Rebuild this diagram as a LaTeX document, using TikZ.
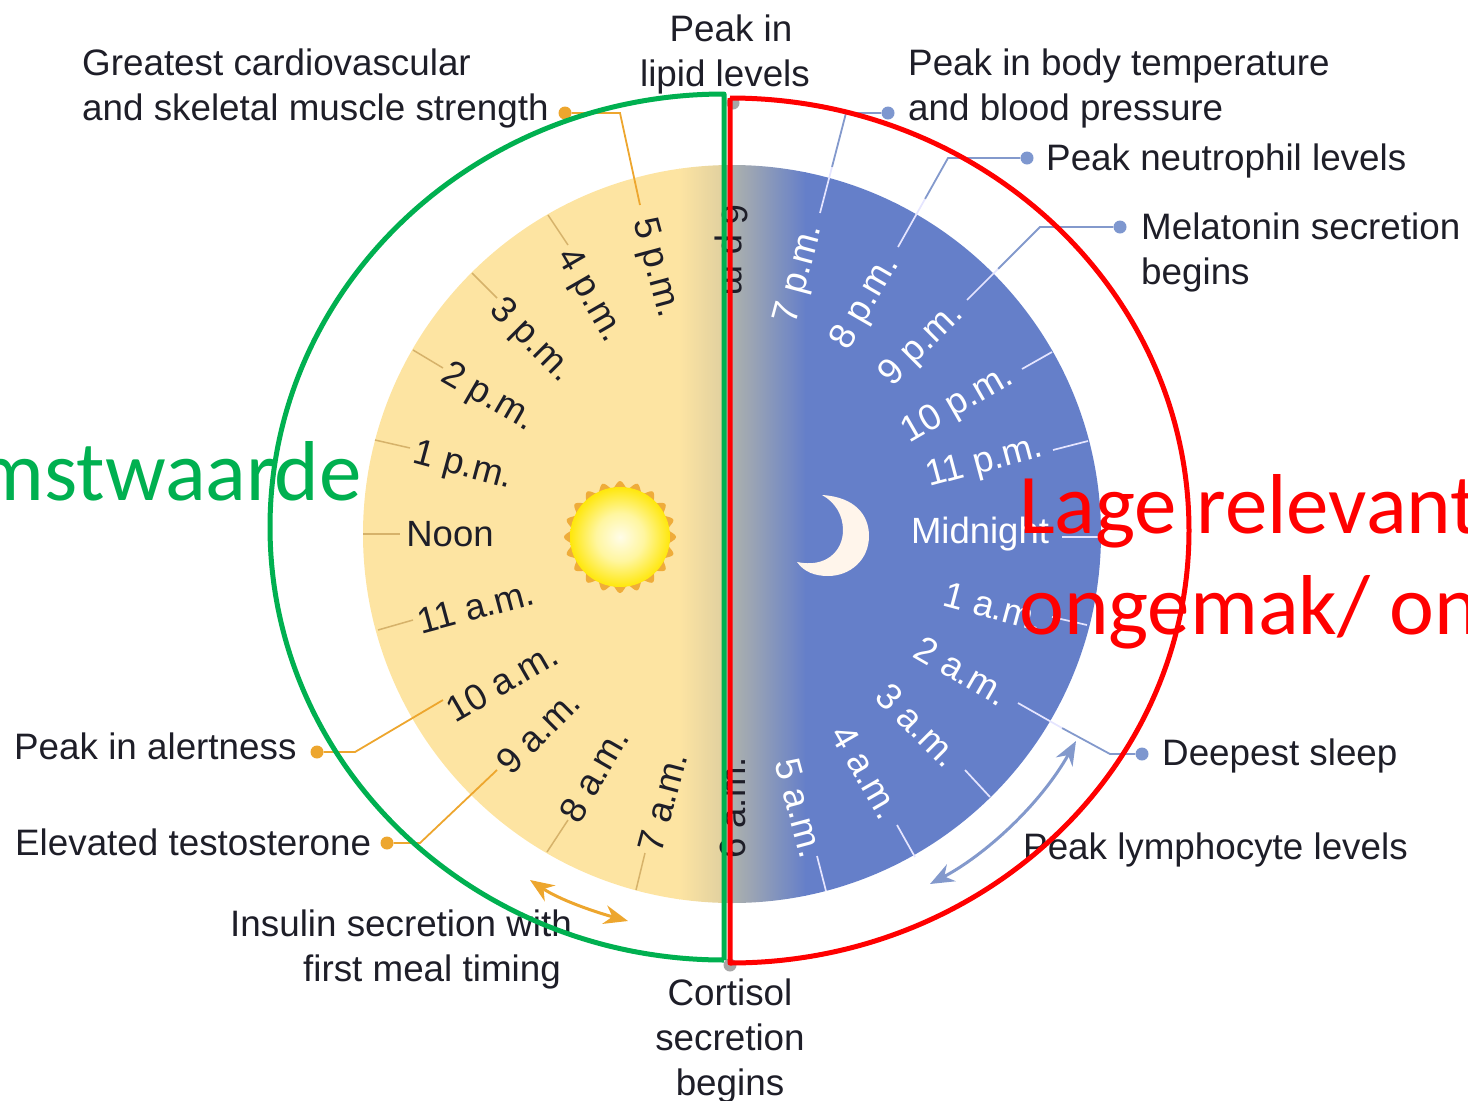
\documentclass[tikz,border=0pt]{standalone}
\usepackage{fontspec}
\setmainfont{Liberation Sans}
\newfontfamily\bigfont{Carlito}
\usetikzlibrary{arrows.meta}
\definecolor{dayfill}{HTML}{FDE4A2}
\definecolor{dayedge}{HTML}{DFCF9F}
\definecolor{nightfill}{HTML}{657FC9}
\definecolor{nightedge}{HTML}{B4B6AA}
\definecolor{ticktan}{HTML}{D6B26A}
\definecolor{orangeline}{HTML}{EDA62E}
\definecolor{blueline}{HTML}{8399CC}
\definecolor{bluedot}{HTML}{7E97CF}
\definecolor{txt}{HTML}{1E1E28}
\definecolor{bggreen}{HTML}{00B050}
\definecolor{sunA}{HTML}{FFFCE8}
\definecolor{sunB}{HTML}{FFF6A0}
\definecolor{sunC}{HTML}{FFE600}
\definecolor{sunD}{HTML}{FFD500}
\definecolor{sunE}{HTML}{F5AE00}
\definecolor{sunF}{HTML}{F0A818}
\pgfdeclareradialshading{sunball}{\pgfpointorigin}{
  color(0bp)=(sunA);color(12bp)=(sunB);color(26bp)=(sunC);
  color(38bp)=(sunD);color(47bp)=(sunE);color(50bp)=(sunF)}
\tikzset{
  lbl/.style={font=\fontsize{36.8}{45}\selectfont,text=txt,inner sep=0pt,align=left},
  hourd/.style={font=\fontsize{36.5}{40}\selectfont,text=txt,inner sep=0pt},
  hourn/.style={font=\fontsize{36.5}{40}\selectfont,text=white,inner sep=0pt},
  daytick/.style={ticktan,line width=1.5pt},
  nighttick/.style={white!90!blue,line width=1.7pt},
  orangelead/.style={orangeline,line width=1.8pt},
  bluelead/.style={blueline,line width=1.8pt},
  dotor/.style={circle,fill=orangeline,inner sep=0pt,minimum size=13pt},
  dotbl/.style={circle,fill=bluedot,inner sep=0pt,minimum size=13pt},
  dotgr/.style={circle,fill=gray!70,inner sep=0pt,minimum size=13pt},
  bigt/.style={font=\bigfont\fontsize{85}{90}\selectfont,inner sep=0pt},
  halfring/.style={line width=5pt,line join=round},
  cyc/.style={line width=3pt,{Stealth[length=24pt,width=19pt]}-{Stealth[length=24pt,width=19pt]}}
}
\begin{document}
\begin{tikzpicture}[x=1pt,y=-1pt]
\useasboundingbox (0,0) rectangle (1468,1101);
\clip (0,0) rectangle (1468,1101);
% disc
\begin{scope}
  \clip (732,534) circle[radius=369pt];
  \fill[dayfill] (360,160) rectangle (680,910);
  \shade[left color=dayfill,right color=dayedge] (679,160) rectangle (726,910);
  \shade[left color=nightedge,right color=nightfill] (725,160) rectangle (806,910);
  \fill[nightfill] (805,160) rectangle (1105,910);
\end{scope}
% sun
\begin{scope}[shift={(620,537)}]
  \fill[orangeline!90!dayfill] plot[domain=0:360,samples=241,smooth] (\x:{52.5+3.5*cos(20*\x)});
  \shade[shading=sunball] (0,0) circle[radius=50pt];
\end{scope}
% moon
\fill[white!92!orange] (822,495) .. controls (855,497) and (869,515) .. (869,536)
  .. controls (869,560) and (850,576) .. (828,576)
  .. controls (815,576) and (804,572) .. (797,562)
  .. controls (825,568) and (843,552) .. (843,530)
  .. controls (843,515) and (835,502) .. (822,495) -- cycle;
% dots
\node[dotor] (dStrength) at (565,113) {};
\node[dotor] (dAlert) at (317,752) {};
\node[dotor] (dTesto) at (387,843) {};
\node[dotbl] (dTemp) at (888,113) {};
\node[dotbl] (dNeutro) at (1027,158) {};
\node[dotbl] (dMela) at (1120,227) {};
\node[dotbl] (dSleep) at (1142,754) {};
\node[dotgr] (dLipid) at (733,103) {};
\node[dotgr] (dCort) at (730,965) {};
% leader lines
\coordinate (k17a) at (620,113); \coordinate (k17b) at (640,205);
\draw[orangelead] (dStrength) -- (k17a) -- (k17b);
\coordinate (k10a) at (355,752); \coordinate (k10b) at (443,700);
\draw[orangelead] (dAlert) -- (k10a) -- (k10b);
\coordinate (k9a) at (420,843); \coordinate (k9b) at (497,770);
\draw[orangelead] (dTesto) -- (k9a) -- (k9b);
\coordinate (k19a) at (846,113); \coordinate (k19b) at (832,167); \coordinate (k19c) at (820,213);
\draw[bluelead] (dTemp) -- (k19a) -- (k19b);
\draw[nighttick] (k19b) -- (k19c);
\coordinate (k20a) at (948,158); \coordinate (k20b) at (925,199); \coordinate (k20c) at (898,247);
\draw[bluelead] (dNeutro) -- (k20a) -- (k20b);
\draw[nighttick] (k20b) -- (k20c);
\coordinate (k21a) at (1040,227); \coordinate (k21b) at (998,269); \coordinate (k21c) at (967,300);
\draw[bluelead] (dMela) -- (k21a) -- (k21b);
\draw[nighttick] (k21b) -- (k21c);
\coordinate (k2a) at (1110,754); \coordinate (k2b) at (1062,728); \coordinate (k2c) at (1018,703);
\draw[bluelead] (dSleep) -- (k2a) -- (k2b);
\draw[nighttick] (k2b) -- (k2c);
% plain ticks
\foreach \a/\b/\c/\d in {363/534/400/534,375/440/410/448,413/350/443/368,472/273/497/298,548/215/568/245,636/890/645/853,547/852/568/820,378/630/413/620}
  \draw[daytick] (\a,\b) -- (\c,\d);
\foreach \a/\b/\c/\d in {1052/352/1022/369,1088/441/1053/450,1100/537/1062/537,1087/625/1052/617,990/797/965/770,915/857/897/825,826/891/817/856}
  \draw[nighttick] (\a,\b) -- (\c,\d);
% hours
\node[hourd] (hNoon) at (450,534) {Noon};
\node[hourd,rotate=-15] (h13) at (463,467) {1 p.m.};
\node[hourd,rotate=-30] (h14) at (488,398) {2 p.m.};
\node[hourd,rotate=-45] (h15) at (531,341) {3 p.m.};
\node[hourd,rotate=-60] (h16) at (589,296) {4 p.m.};
\node[hourd,rotate=-75] (h17) at (655,268) {5 p.m.};
\node[hourd,rotate=-90] (h18) at (731,255) {6 p.m.};
\node[hourn,rotate=75] (h19) at (800,274) {7 p.m.};
\node[hourn,rotate=60] (h20) at (866,303) {8 p.m.};
\node[hourn,rotate=45] (h21) at (922,345) {9 p.m.};
\node[hourn,rotate=30] (h22) at (958,405) {10 p.m.};
\node[hourn,rotate=15] (h23) at (985,463) {11 p.m.};
\node[hourn] (h24) at (980,534) {Midnight};
\node[hourn,rotate=-15] (h1) at (994,607) {1 a.m.};
\node[hourn,rotate=-30] (h2) at (962,671) {2 a.m.};
\node[hourn,rotate=-45] (h3) at (918,725) {3 a.m.};
\node[hourn,rotate=-60] (h4) at (866,772) {4 a.m.};
\node[hourn,rotate=-75] (h5) at (800,808) {5 a.m.};
\node[hourd,rotate=90] (h6) at (733,808) {6 a.m.};
\node[hourd,rotate=75] (h7) at (663,802) {7 a.m.};
\node[hourd,rotate=60] (h8) at (594,775) {8 a.m.};
\node[hourd,rotate=45] (h9) at (538,732) {9 a.m.};
\node[hourd,rotate=30] (h10) at (502,682) {10 a.m.};
\node[hourd,rotate=15] (h11) at (476,607) {11 a.m.};
% labels
\node[lbl,anchor=west] (lStrength) at (82,88) {Greatest cardiovascular\\and skeletal muscle strength};
\node[lbl,align=center] (lLipid) at (725,54) {\hspace{12pt}Peak in\\lipid levels};
\node[lbl,anchor=west] (lTemp) at (908,88) {Peak in body temperature\\and blood pressure};
\node[lbl,anchor=west] (lNeutro) at (1046,161) {Peak neutrophil levels};
\node[lbl,anchor=west] (lMela) at (1141,252.5) {Melatonin secretion\\begins};
\node[lbl,anchor=west] (lAlert) at (14,746) {Peak in alertness};
\node[lbl,anchor=west] (lTesto) at (15,842) {Elevated testosterone};
\node[lbl,anchor=east,align=right] (lInsulin) at (572,949) {Insulin secretion with\\first meal timing\rule{11pt}{0pt}};
\node[lbl,align=center] (lCort) at (730,1041) {Cortisol\\secretion\\begins};
\node[lbl,anchor=west] (lSleep) at (1162,756) {Deepest sleep};
\node[lbl,anchor=west] (lLymph) at (1023,850) {Peak lymphocyte levels};
% cycle arrows
\coordinate (aOr1) at (530,880); \coordinate (aOr2) at (628,921);
\draw[cyc,orangeline] (aOr1) .. controls (560,900) and (595,912) .. (aOr2);
\coordinate (aBl1) at (1076,741); \coordinate (aBl2) at (930,884);
\draw[cyc,blueline] (aBl1) .. controls (1040,805) and (985,855) .. (aBl2);
% overlay half rings
\draw[bggreen,halfring] (724,960) -- (724,94) arc[start angle=90,end angle=270,x radius=454pt,y radius=433pt];
\draw[red,halfring] (730,98) -- (730,963) arc[start angle=-90,end angle=90,x radius=459pt,y radius=432.5pt];
% overlay text
\node[bigt,text=bggreen,anchor=base east] (tGreen) at (362,500) {mstwaarde};
\node[bigt,text=red,anchor=base west] (tRed1) at (1019,533) {Lage relevant};
\node[bigt,text=red,anchor=base west] (tRed2) at (1019,634) {ongemak/ on};
\end{tikzpicture}
\end{document}
